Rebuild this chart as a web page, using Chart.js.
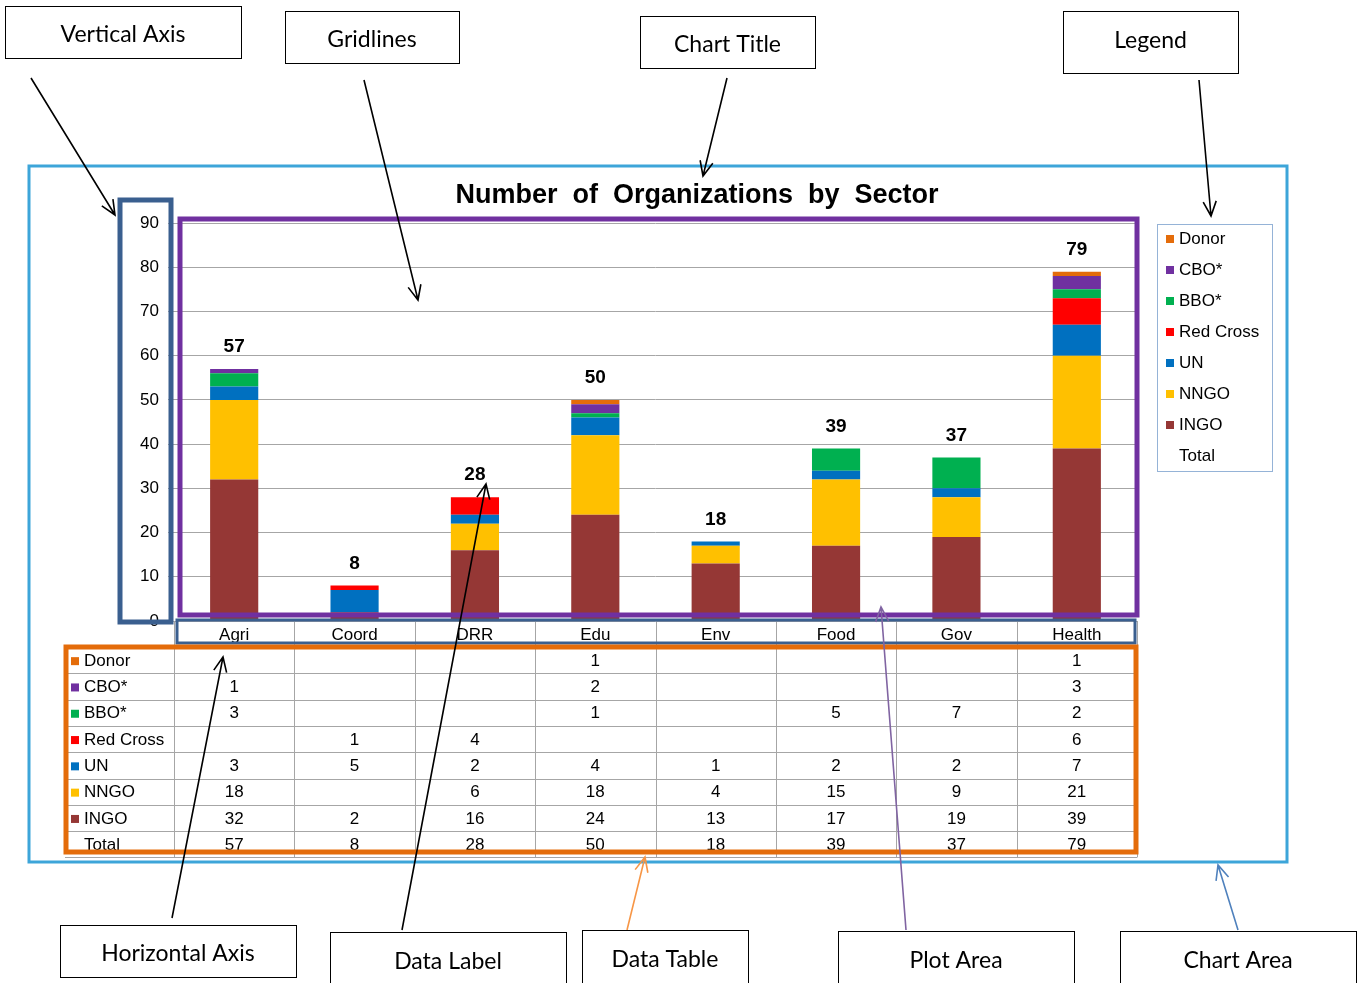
<!DOCTYPE html>
<html>
<head>
<meta charset="utf-8">
<script src="https://cdn.jsdelivr.net/npm/chart.js@4.4.1/dist/chart.umd.min.js"></script>
<style>
  body { margin: 0; background: #fff; }
  canvas { display: block; }
</style>
</head>
<body>
<canvas id="chOrgs" width="1364" height="983"></canvas>
<script>
// data
var sectors  = ['Agri', 'Coord', 'DRR', 'Edu', 'Env', 'Food', 'Gov', 'Health'];
var ingo     = [32, 2, 16, 24, 13, 17, 19, 39];
var nngo     = [18, null, 6, 18, 4, 15, 9, 21];
var un       = [3, 5, 2, 4, 1, 2, 2, 7];
var redCross = [null, 1, 4, null, null, null, null, 6];
var bbo      = [3, null, null, 1, null, 5, 7, 2];
var cbo      = [1, null, null, 2, null, null, null, 3];
var donor    = [null, null, null, 1, null, null, null, 1];
var totals   = [57, 8, 28, 50, 18, 39, 37, 79];

var colors = ['#953735', '#FFC000', '#0070C0', '#FF0000', '#00B050', '#7030A0', '#E46C0A'];
var FONT = '"Liberation Sans", Arial, sans-serif';
var NOTE_FONT = 'Lato, "Open Sans", sans-serif';

// stacking order, bottom to top
var series = [
  {label: 'INGO', data: ingo},
  {label: 'NNGO', data: nngo},
  {label: 'UN', data: un},
  {label: 'Red Cross', data: redCross},
  {label: 'BBO*', data: bbo},
  {label: 'CBO*', data: cbo},
  {label: 'Donor', data: donor}
];

var datasets = series.map(function (s, i) {
  return {
    label: s.label,
    data: s.data,
    backgroundColor: colors[i],
    borderWidth: 0,
    barPercentage: 0.4,
    categoryPercentage: 1
  };
});

function arrow(ctx, x1, y1, x2, y2, color) {
  var a = Math.atan2(y2 - y1, x2 - x1), len = 16, sp = 0.42;
  ctx.strokeStyle = color;
  ctx.lineWidth = 1.6;
  ctx.beginPath();
  ctx.moveTo(x1, y1); ctx.lineTo(x2, y2);
  ctx.moveTo(x2 - len * Math.cos(a - sp), y2 - len * Math.sin(a - sp));
  ctx.lineTo(x2, y2);
  ctx.lineTo(x2 - len * Math.cos(a + sp), y2 - len * Math.sin(a + sp));
  ctx.stroke();
}

var notes = [
  ['Vertical Axis', 5, 6, 236, 52],
  ['Gridlines', 285, 11, 174, 52],
  ['Chart Title', 640, 16, 175, 52],
  ['Legend', 1063, 11, 175, 62],
  ['Horizontal Axis', 60, 925, 236, 52],
  ['Data Label', 330, 932, 236, 60],
  ['Data Table', 582, 930, 166, 60],
  ['Plot Area', 838, 931, 236, 60],
  ['Chart Area', 1120, 931, 236, 60]
];

var pointers = [
  [31, 78, 115, 215, '#000'],
  [364, 80, 418, 300, '#000'],
  [727, 78, 703, 176, '#000'],
  [1199, 80, 1211, 216, '#000'],
  [172, 918, 223, 657, '#000'],
  [402, 930, 486, 484, '#000'],
  [627, 930, 645, 857, '#F79646'],
  [906, 930, 881, 607, '#8064A2'],
  [1238, 930, 1218, 865, '#4F81BD']
];

var decorPlugin = {
  id: 'decor',
  beforeDraw: function (chart) {
    var ctx = chart.ctx;
    ctx.save();
    ctx.fillStyle = '#fff';
    ctx.fillRect(0, 0, chart.width, chart.height);
    ctx.restore();
  },
  afterDraw: function (chart) {
    var ctx = chart.ctx, x = chart.scales.x, y = chart.scales.y, area = chart.chartArea;
    var colW = (area.right - area.left) / sectors.length;
    ctx.save();

    // title
    ctx.fillStyle = '#000';
    ctx.font = 'bold 27px ' + FONT;
    ctx.textAlign = 'center';
    ctx.textBaseline = 'middle';
    ctx.fillText('Number  of  Organizations  by  Sector', 697, 196);

    // total labels
    ctx.font = 'bold 19px ' + FONT;
    totals.forEach(function (t, i) {
      ctx.fillText(String(t), x.getPixelForValue(i), y.getPixelForValue(t) - 22);
    });

    // data table
    var rowH = 26.3, top = area.bottom + 26, tLeft = 65;
    var rows = series.slice().reverse().map(function (s, k) {
      return {label: s.label, data: s.data, color: colors[series.length - 1 - k]};
    });
    rows.push({label: 'Total', data: totals, color: null});
    var tBottom = top + rows.length * rowH;

    ctx.strokeStyle = '#A6A6A6';
    ctx.lineWidth = 1;
    ctx.beginPath();
    for (var r = 0; r <= rows.length; r++) {
      var ry = Math.round(top + r * rowH) + 0.5;
      ctx.moveTo(tLeft, ry); ctx.lineTo(area.right, ry);
    }
    for (var c = 0; c <= sectors.length; c++) {
      var cx = Math.round(area.left + c * colW) + 0.5;
      ctx.moveTo(cx, area.bottom); ctx.lineTo(cx, tBottom);
    }
    ctx.stroke();

    ctx.font = '17px ' + FONT;
    ctx.fillStyle = '#000';
    sectors.forEach(function (s, i) {
      ctx.fillText(s, x.getPixelForValue(i), area.bottom + 14);
    });
    rows.forEach(function (row, r) {
      var cy = top + r * rowH + rowH / 2 + 1;
      if (row.color) {
        ctx.fillStyle = row.color;
        ctx.fillRect(71, cy - 4, 8, 8);
      }
      ctx.fillStyle = '#000';
      ctx.textAlign = 'left';
      ctx.fillText(row.label, 84, cy);
      ctx.textAlign = 'center';
      row.data.forEach(function (v, i) {
        if (v !== null) ctx.fillText(String(v), x.getPixelForValue(i), cy);
      });
    });

    // legend
    ctx.strokeStyle = '#95B3D7';
    ctx.strokeRect(1157.5, 224.5, 115, 247);
    ctx.textAlign = 'left';
    rows.forEach(function (row, r) {
      var ly = 239 + r * 31;
      if (row.color) {
        ctx.fillStyle = row.color;
        ctx.fillRect(1166, ly - 4, 8, 8);
      }
      ctx.fillStyle = '#000';
      ctx.fillText(row.label, 1179, ly);
    });

    // element frames
    function frame(x0, y0, x1, y1, col, w) {
      ctx.strokeStyle = col; ctx.lineWidth = w;
      ctx.strokeRect(x0, y0, x1 - x0, y1 - y0);
    }
    frame(29, 166, 1287, 862, '#3DA5D9', 3);
    frame(120, 200, 171, 622, '#3A5F8F', 5);
    frame(180, 219, 1137, 615, '#7030A0', 5);
    frame(177, 620, 1135, 643, '#3A5F8F', 3);
    frame(66, 647, 1136, 852, '#E46C0A', 5);

    // callout boxes and arrows
    pointers.forEach(function (p) { arrow(ctx, p[0], p[1], p[2], p[3], p[4]); });
    ctx.font = '23px ' + NOTE_FONT;
    ctx.textAlign = 'center';
    notes.forEach(function (n) {
      ctx.fillStyle = '#fff';
      ctx.fillRect(n[1], n[2], n[3], n[4]);
      ctx.strokeStyle = '#000'; ctx.lineWidth = 1;
      ctx.strokeRect(n[1] + 0.5, n[2] + 0.5, n[3], n[4]);
      ctx.fillStyle = '#000';
      ctx.fillText(n[0], n[1] + n[3] / 2, n[2] + Math.min(n[4], 54) / 2 + 3);
    });
    ctx.restore();
  }
};

new Chart(document.getElementById('chOrgs'), {
  type: 'bar',
  data: {labels: sectors, datasets: datasets},
  options: {
    responsive: false,
    animation: false,
    layout: {padding: {left: 100, right: 227, top: 223, bottom: 362}},
    plugins: {legend: {display: false}, tooltip: {enabled: false}},
    scales: {
      x: {stacked: true, display: false, offset: true},
      y: {
        stacked: true, min: 0, max: 90,
        ticks: {stepSize: 10, color: '#000', padding: 9, font: {family: FONT, size: 17}},
        grid: {color: '#A6A6A6', tickLength: 6},
        border: {display: false},
        afterFit: function (s) { s.width = 74; }
      }
    }
  },
  plugins: [decorPlugin]
});
</script>
</body>
</html>
